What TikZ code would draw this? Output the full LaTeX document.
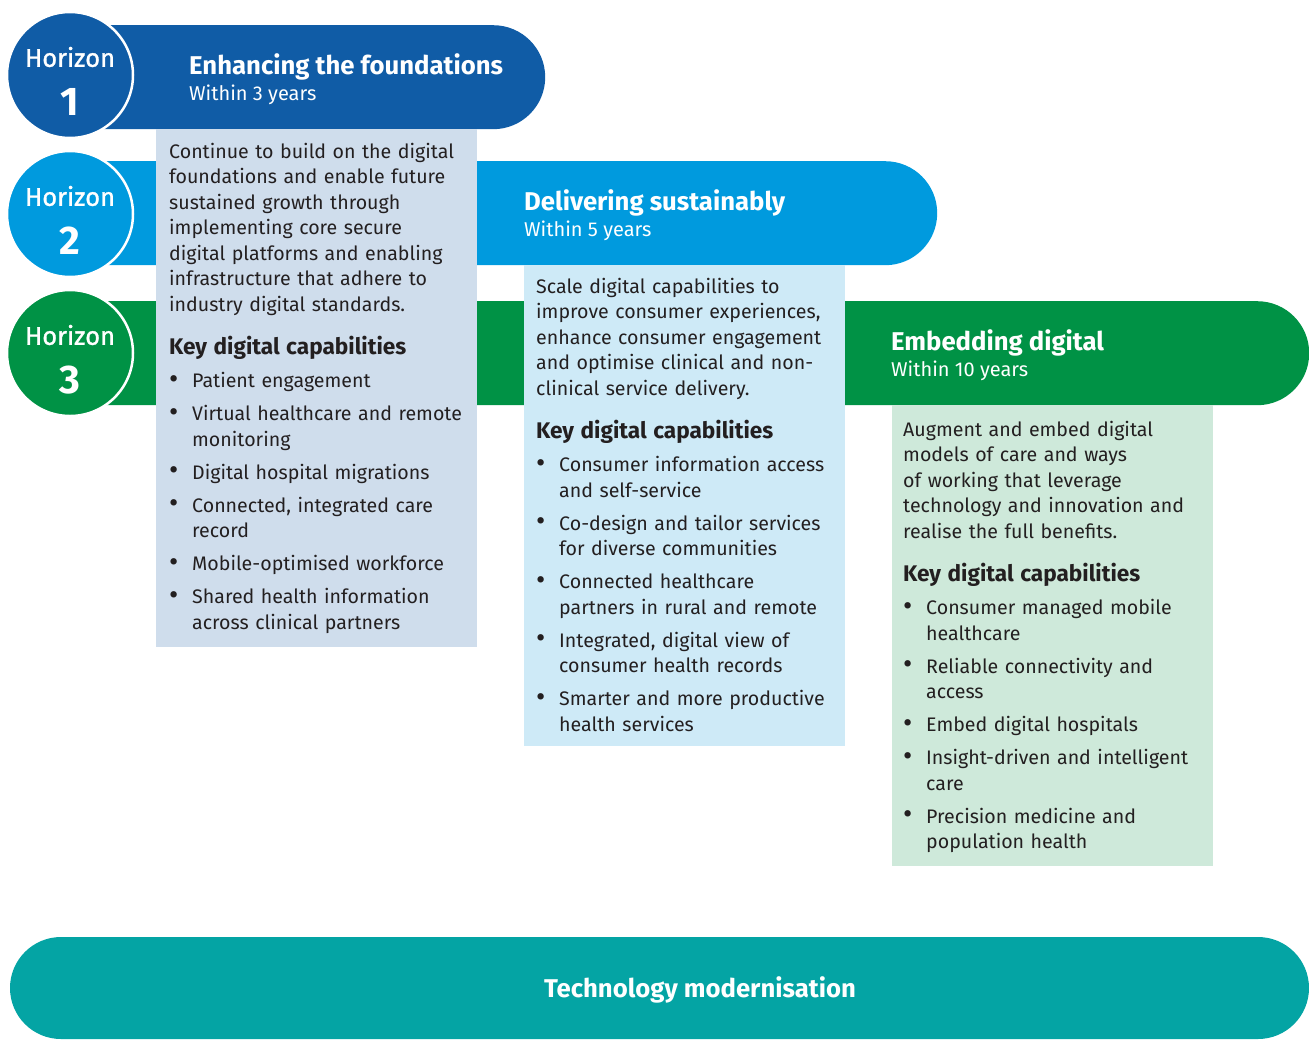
\documentclass[tikz,border=0pt]{standalone}
\usepackage{fontspec}
\setmainfont{Fira Sans}
\newfontfamily\fsmed[FakeBold=1.2]{Fira Sans}
\usetikzlibrary{shapes.misc}
\definecolor{hone}{RGB}{16,92,166}
\definecolor{htwo}{RGB}{0,154,222}
\definecolor{hthree}{RGB}{0,146,69}
\definecolor{tealbar}{RGB}{4,164,164}
\definecolor{bone}{RGB}{207,221,236}
\definecolor{btwo}{RGB}{206,234,247}
\definecolor{bthree}{RGB}{206,233,218}
\definecolor{txt}{RGB}{35,31,32}
\newcommand{\bodyfont}{\fontsize{19.6}{25.5}\selectfont}
\newcommand{\khead}[1]{\par{\fontsize{22.6}{43.5}\selectfont\bfseries #1\par}}
\newcommand{\bmark}{\hbox to 23pt{\raisebox{-0.5pt}{\scalebox{1.45}{\textbullet}}\hfil}}
\newcommand{\bitem}[1]{\par\vskip7.5pt{\bodyfont\noindent\bmark #1\par}}
\newcommand{\bitemm}[2]{\par\vskip7.5pt{\bodyfont\noindent\bmark #1\par\noindent\hskip23pt #2\par}}
\begin{document}
\begin{tikzpicture}[x=1pt,y=-1pt,
  bar/.style={rounded rectangle, rounded rectangle west arc=none, minimum height=104pt, inner sep=0pt, anchor=north west},
  hcirc/.style={circle, minimum size=126pt, draw=white, line width=2.5pt, inner sep=0pt},
  htitle/.style={anchor=base west, text=white, font=\fontsize{25.7}{30}\selectfont\bfseries, inner sep=0pt},
  hsub/.style={anchor=base west, text=white, font=\fontsize{20}{24}\selectfont, inner sep=0pt},
  panel/.style={anchor=north west, inner sep=0pt, minimum width=321pt},
  ptext/.style={anchor=base west, inner sep=0pt, text width=400pt, align=left, text=txt, font=\bodyfont},
  hword/.style={text=white, font=\fsmed\fontsize{25.5}{28}\selectfont, inner sep=0pt},
  hnum/.style={text=white, font=\fontsize{40}{44}\selectfont\bfseries, inner sep=0pt}]
\useasboundingbox (0,0) rectangle (1309,1039);
% bars
\node[bar, fill=hone, minimum width=445pt] (bar1) at (100,25) {};
\node[bar, fill=htwo, minimum width=837pt] (bar2) at (100,161) {};
\node[bar, fill=hthree, minimum width=1209pt] (bar3) at (100,301) {};
% titles
\node[htitle] (ti1) at (189,74) {Enhancing the foundations};
\node[hsub] (su1) at (189,100) {Within 3 years};
\node[htitle] (ti2) at (524,210) {Delivering sustainably};
\node[hsub] (su2) at (524,236) {Within 5 years};
\node[htitle] (ti3) at (891,350) {Embedding digital};
\node[hsub] (su3) at (891,376) {Within 10 years};
% panels
\node[panel, fill=bone, minimum height=518pt] (box1) at (156,129) {};
\node[panel, fill=btwo, minimum height=481pt] (box2) at (524,265) {};
\node[panel, fill=bthree, minimum height=461pt] (box3) at (892,405) {};
% panel texts
\node[ptext] (tx1) at (169,158) {%
Continue to build on the digital\\
foundations and enable future\\
sustained growth through\\
implementing core secure\\
digital platforms and enabling\\
infrastructure that adhere to\\
industry digital standards.
\khead{Key digital capabilities}
\bitem{Patient engagement}
\bitemm{Virtual healthcare and remote}{monitoring}
\bitem{Digital hospital migrations}
\bitemm{Connected, integrated care}{record}
\bitem{Mobile-optimised workforce}
\bitemm{Shared health information}{across clinical partners}};
\node[ptext] (tx2) at (536,293) {%
Scale digital capabilities to\\
improve consumer experiences,\\
enhance consumer engagement\\
and optimise clinical and non-\\
clinical service delivery.
\khead{Key digital capabilities}
\bitemm{Consumer information access}{and self-service}
\bitemm{Co-design and tailor services}{for diverse communities}
\bitemm{Connected healthcare}{partners in rural and remote}
\bitemm{Integrated, digital view of}{consumer health records}
\bitemm{Smarter and more productive}{health services}};
\node[ptext] (tx3) at (903,436) {%
Augment and embed digital\\
models of care and ways\\
of working that leverage\\
technology and innovation and\\
realise the full benefits.
\khead{Key digital capabilities}
\bitemm{Consumer managed mobile}{healthcare}
\bitemm{Reliable connectivity and}{access}
\bitem{Embed digital hospitals}
\bitemm{Insight-driven and intelligent}{care}
\bitemm{Precision medicine and}{population health}};
% circles
\node[hcirc, fill=hone] (c1) at (70,75) {};
\node[hcirc, fill=htwo] (c2) at (70,214) {};
\node[hcirc, fill=hthree] (c3) at (70,353) {};
\node[hword] (c1a) at (70,57) {Horizon};
\node[hnum] (c1b) at (70,102) {1};
\node[hword] (c2a) at (70,196) {Horizon};
\node[hnum] (c2b) at (70,241) {2};
\node[hword] (c3a) at (70,335) {Horizon};
\node[hnum] (c3b) at (70,380) {3};
% technology bar
\fill[tealbar, rounded corners=51pt] (10,937) rectangle (1309,1039);
\node[text=white, font=\fontsize{25.7}{30}\selectfont\bfseries, inner sep=0pt] (techt) at (700,990) {Technology modernisation};
\end{tikzpicture}
\end{document}
